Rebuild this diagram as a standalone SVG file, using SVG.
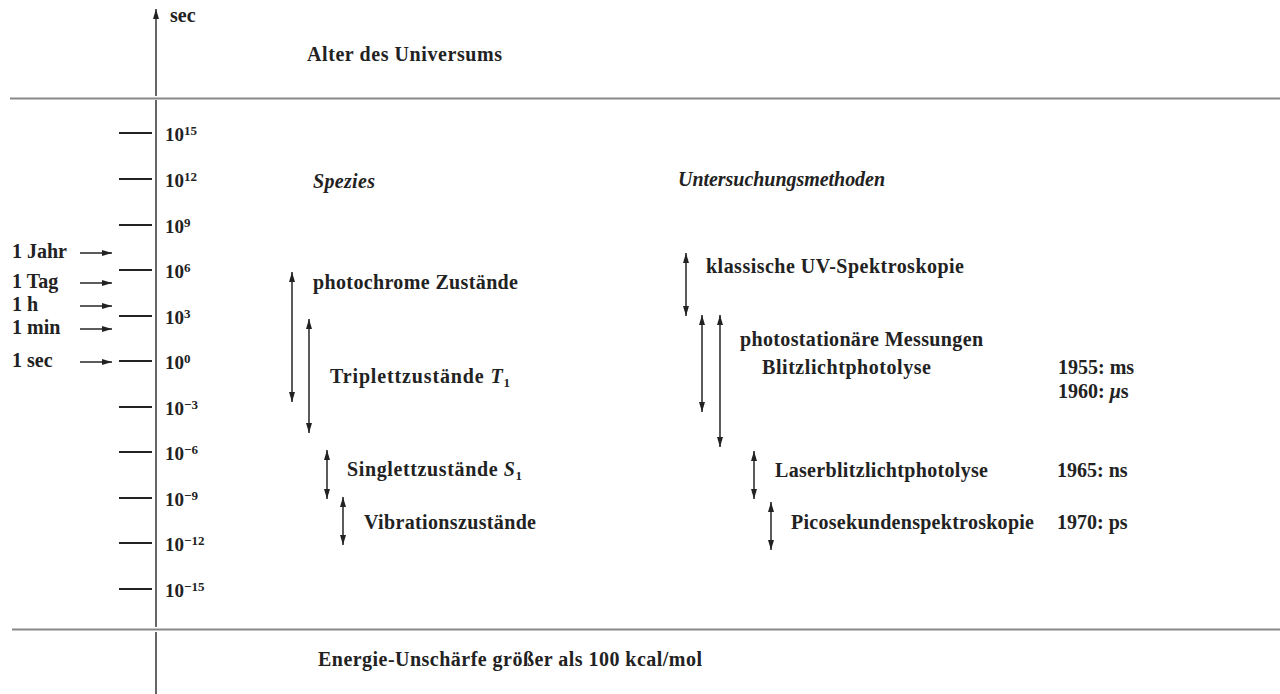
<svg xmlns="http://www.w3.org/2000/svg" width="1280" height="694" viewBox="0 0 1280 694">
<defs>
<style>
text{font-family:"Liberation Serif","DejaVu Serif",serif;font-size:20px;font-weight:bold;fill:#222}
.it{font-style:italic}
.sup{font-size:13px}
.tl{font-size:19px}
.ax{stroke:#666;stroke-width:2;fill:none}
.rule{stroke:#888;stroke-width:2;fill:none}
.tick{stroke:#222;stroke-width:2}
.arr{stroke:#333;stroke-width:1.6;fill:none}
</style>
<marker id="ah" viewBox="0 0 10 6" refX="10" refY="3" markerWidth="10" markerHeight="6.5" markerUnits="userSpaceOnUse" orient="auto-start-reverse"><path d="M0,0 L10,3 L0,6 z" fill="#222"/></marker>
</defs>
<rect width="1280" height="694" fill="#fff"/>
<g id="axis">
<line class="ax" x1="156" y1="96" x2="156" y2="9" marker-end="url(#ah)"/>
<line class="ax" x1="156" y1="100" x2="156" y2="627"/>
<line class="ax" x1="156" y1="632" x2="156" y2="694"/>
<line class="rule" x1="10" y1="98.5" x2="1280" y2="98.5"/>
<line class="rule" x1="12" y1="629.5" x2="1280" y2="629.5"/>
</g>
<g id="ticks">
<line class="tick" x1="119" y1="133" x2="152" y2="133"/>
<line class="tick" x1="119" y1="179" x2="152" y2="179"/>
<line class="tick" x1="119" y1="225" x2="152" y2="225"/>
<line class="tick" x1="119" y1="270" x2="152" y2="270"/>
<line class="tick" x1="119" y1="316" x2="152" y2="316"/>
<line class="tick" x1="119" y1="361" x2="152" y2="361"/>
<line class="tick" x1="119" y1="407" x2="152" y2="407"/>
<line class="tick" x1="119" y1="452" x2="152" y2="452"/>
<line class="tick" x1="119" y1="498" x2="152" y2="498"/>
<line class="tick" x1="119" y1="543" x2="152" y2="543"/>
<line class="tick" x1="119" y1="589" x2="152" y2="589"/>
</g>
<g id="tick-labels">
<text class="tl" x="165" y="141">10<tspan class="sup" dy="-6">15</tspan></text>
<text class="tl" x="165" y="187">10<tspan class="sup" dy="-6">12</tspan></text>
<text class="tl" x="165" y="233">10<tspan class="sup" dy="-6">9</tspan></text>
<text class="tl" x="165" y="278">10<tspan class="sup" dy="-6">6</tspan></text>
<text class="tl" x="165" y="324">10<tspan class="sup" dy="-6">3</tspan></text>
<text class="tl" x="165" y="369">10<tspan class="sup" dy="-6">0</tspan></text>
<text class="tl" x="165" y="415">10<tspan class="sup" dy="-6">−3</tspan></text>
<text class="tl" x="165" y="460">10<tspan class="sup" dy="-6">−6</tspan></text>
<text class="tl" x="165" y="506">10<tspan class="sup" dy="-6">−9</tspan></text>
<text class="tl" x="165" y="551">10<tspan class="sup" dy="-6">−12</tspan></text>
<text class="tl" x="165" y="597">10<tspan class="sup" dy="-6">−15</tspan></text>
</g>
<g id="unit"><text x="170" y="22">sec</text></g>
<g id="alter"><text x="307" y="61" textLength="195" lengthAdjust="spacing">Alter des Universums</text></g>
<g id="time-units">
<text x="12" y="258">1 Jahr</text>
<text x="12" y="288">1 Tag</text>
<text x="12" y="311">1 h</text>
<text x="12" y="334">1 min</text>
<text x="12" y="367">1 sec</text>
</g>
<g id="connectors">
<line class="arr" x1="80" y1="253" x2="112" y2="253" marker-end="url(#ah)"/>
<line class="arr" x1="80" y1="283" x2="112" y2="283" marker-end="url(#ah)"/>
<line class="arr" x1="80" y1="306" x2="112" y2="306" marker-end="url(#ah)"/>
<line class="arr" x1="80" y1="329" x2="112" y2="329" marker-end="url(#ah)"/>
<line class="arr" x1="80" y1="362" x2="112" y2="362" marker-end="url(#ah)"/>
<line class="arr" x1="292" y1="272" x2="292" y2="402" marker-start="url(#ah)" marker-end="url(#ah)"/>
<line class="arr" x1="309" y1="319" x2="309" y2="433" marker-start="url(#ah)" marker-end="url(#ah)"/>
<line class="arr" x1="327" y1="450" x2="327" y2="499" marker-start="url(#ah)" marker-end="url(#ah)"/>
<line class="arr" x1="343" y1="497" x2="343" y2="545" marker-start="url(#ah)" marker-end="url(#ah)"/>
<line class="arr" x1="686" y1="253" x2="686" y2="316" marker-start="url(#ah)" marker-end="url(#ah)"/>
<line class="arr" x1="702" y1="315" x2="702" y2="412" marker-start="url(#ah)" marker-end="url(#ah)"/>
<line class="arr" x1="720" y1="315" x2="720" y2="447" marker-start="url(#ah)" marker-end="url(#ah)"/>
<line class="arr" x1="754" y1="451" x2="754" y2="499" marker-start="url(#ah)" marker-end="url(#ah)"/>
<line class="arr" x1="771" y1="502" x2="771" y2="550" marker-start="url(#ah)" marker-end="url(#ah)"/>
</g>
<g id="spezies"><text class="it" x="313" y="188" textLength="62" lengthAdjust="spacing">Spezies</text></g>
<g id="methoden"><text class="it" x="678" y="186" textLength="207" lengthAdjust="spacing">Untersuchungsmethoden</text></g>
<g id="photochrom"><text x="313" y="289" textLength="205" lengthAdjust="spacing">photochrome Zustände</text></g>
<g id="triplett"><text x="330" y="383" textLength="180" lengthAdjust="spacing">Triplettzustände <tspan class="it">T</tspan><tspan class="sup" dy="4">1</tspan></text></g>
<g id="singlett"><text x="347" y="476" textLength="175" lengthAdjust="spacing">Singlettzustände <tspan class="it">S</tspan><tspan class="sup" dy="4">1</tspan></text></g>
<g id="vibration"><text x="364" y="529" textLength="172" lengthAdjust="spacing">Vibrationszustände</text></g>
<g id="uv"><text x="706" y="273" textLength="258" lengthAdjust="spacing">klassische UV-Spektroskopie</text></g>
<g id="photostat"><text x="740" y="346" textLength="243" lengthAdjust="spacing">photostationäre Messungen</text></g>
<g id="blitz"><text x="762" y="374" textLength="169" lengthAdjust="spacing">Blitzlichtphotolyse</text>
<text x="1058" y="374">1955: ms</text>
<text x="1058" y="398">1960: <tspan class="it">μ</tspan>s</text></g>
<g id="laser"><text x="775" y="477" textLength="213" lengthAdjust="spacing">Laserblitzlichtphotolyse</text>
<text x="1057" y="477">1965: ns</text></g>
<g id="pico"><text x="791" y="529" textLength="243" lengthAdjust="spacing">Picosekundenspektroskopie</text>
<text x="1057" y="529">1970: ps</text></g>
<g id="energie"><text x="318" y="666" textLength="384" lengthAdjust="spacing">Energie-Unschärfe größer als 100 kcal/mol</text></g>
</svg>
